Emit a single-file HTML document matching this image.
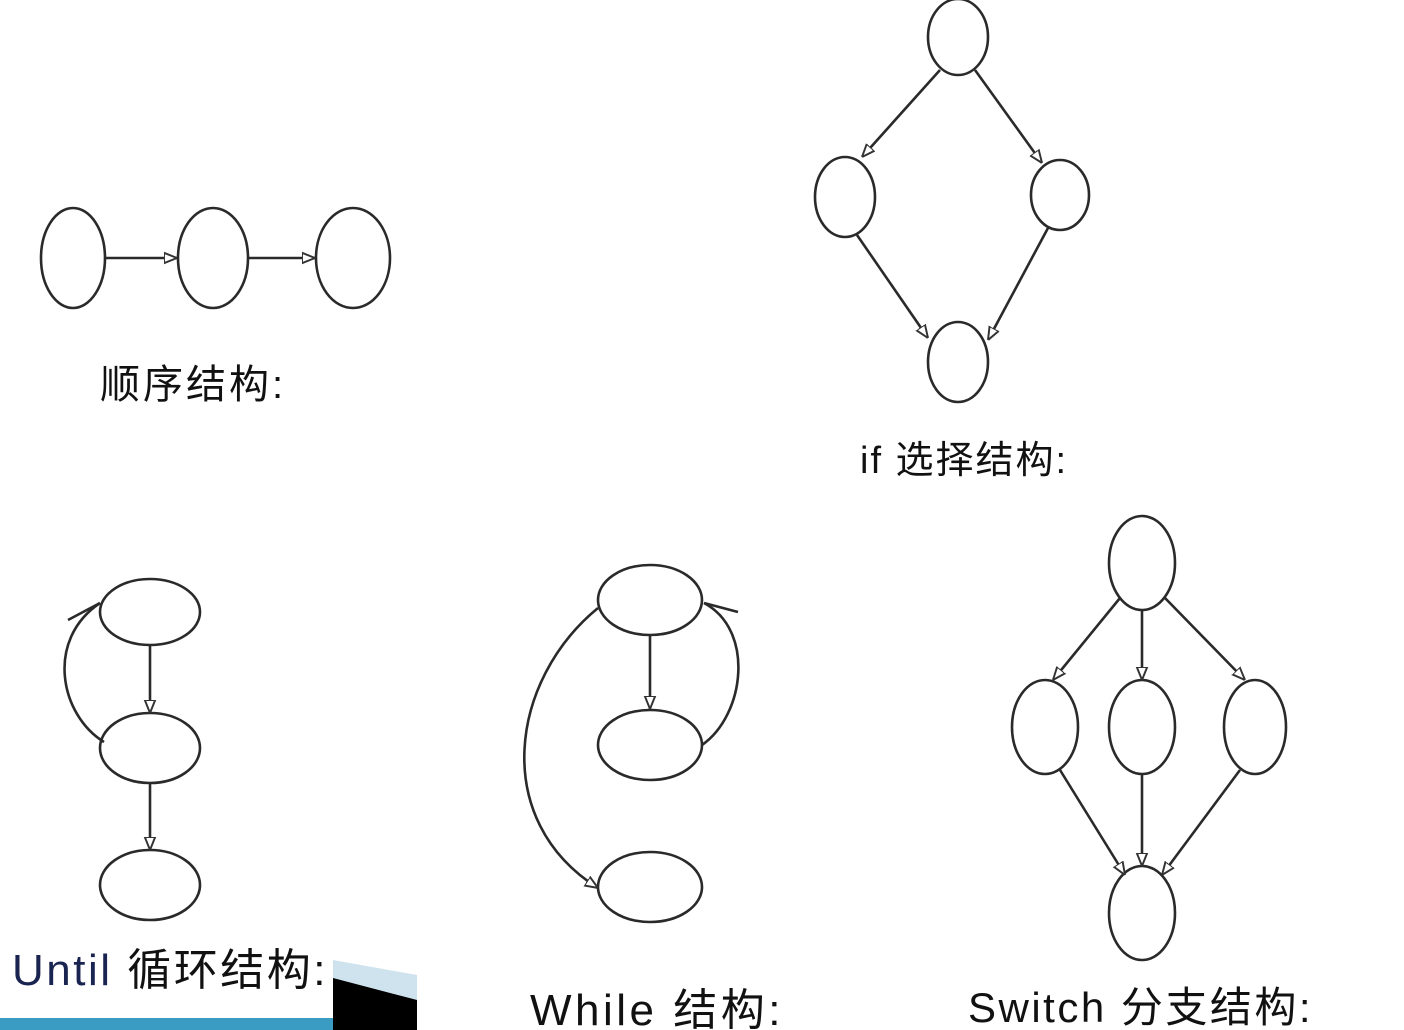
<!DOCTYPE html>
<html><head><meta charset="utf-8"><style>
html,body{margin:0;padding:0;background:#fff;}
svg{display:block;}
text{font-family:"Liberation Sans","Noto Sans CJK SC",sans-serif;fill:#111;}
</style></head><body>
<svg width="1404" height="1030" viewBox="0 0 1404 1030">
<defs>
<marker id="ar" viewBox="0 0 10 10" refX="10" refY="5" markerWidth="13" markerHeight="13" markerUnits="userSpaceOnUse" orient="auto">
<path d="M0,1 L10,5 L0,9 Z" fill="#fff" stroke="#333" stroke-width="1.5"/>
</marker>
</defs>
<g fill="none" stroke="#2a2a2a" stroke-width="2.6">
<g>
<ellipse cx="73" cy="258" rx="32" ry="50"/>
<ellipse cx="213" cy="258" rx="35" ry="50"/>
<ellipse cx="353" cy="258" rx="37" ry="50"/>
<line x1="106" y1="258" x2="177" y2="258" marker-end="url(#ar)"/>
<line x1="249" y1="258" x2="315" y2="258" marker-end="url(#ar)"/>
</g>
<g>
<ellipse cx="958" cy="37" rx="30" ry="38"/>
<ellipse cx="845" cy="197" rx="30" ry="40"/>
<ellipse cx="1060" cy="195" rx="29" ry="35"/>
<ellipse cx="958" cy="362" rx="30" ry="40"/>
<line x1="940" y1="70" x2="862" y2="157" marker-end="url(#ar)"/>
<line x1="975" y1="70" x2="1042" y2="163" marker-end="url(#ar)"/>
<line x1="857" y1="235" x2="928" y2="338" marker-end="url(#ar)"/>
<line x1="1048" y1="228" x2="988" y2="340" marker-end="url(#ar)"/>
</g>
<g>
<ellipse cx="150" cy="612" rx="50" ry="33"/>
<ellipse cx="150" cy="748" rx="50" ry="35"/>
<ellipse cx="150" cy="885" rx="50" ry="35"/>
<line x1="150" y1="645" x2="150" y2="713" marker-end="url(#ar)"/>
<line x1="150" y1="783" x2="150" y2="850" marker-end="url(#ar)"/>
<path d="M104,742 C60,715 45,640 100,603"/>
<line x1="68" y1="620" x2="100" y2="603"/>
</g>
<g>
<ellipse cx="650" cy="600" rx="52" ry="35"/>
<ellipse cx="650" cy="745" rx="52" ry="35"/>
<ellipse cx="650" cy="887" rx="52" ry="35"/>
<line x1="650" y1="635" x2="650" y2="709" marker-end="url(#ar)"/>
<path d="M702,745 C745,715 755,630 704,603"/>
<line x1="738" y1="612" x2="704" y2="603"/>
<path d="M598,608 C510,680 490,820 598,888" marker-end="url(#ar)"/>
</g>
<g>
<ellipse cx="1142" cy="563" rx="33" ry="47"/>
<ellipse cx="1045" cy="727" rx="33" ry="47"/>
<ellipse cx="1142" cy="727" rx="33" ry="47"/>
<ellipse cx="1255" cy="727" rx="31" ry="47"/>
<ellipse cx="1142" cy="913" rx="33" ry="47"/>
<line x1="1120" y1="598" x2="1053" y2="680" marker-end="url(#ar)"/>
<line x1="1142" y1="610" x2="1142" y2="680" marker-end="url(#ar)"/>
<line x1="1165" y1="598" x2="1245" y2="680" marker-end="url(#ar)"/>
<line x1="1060" y1="770" x2="1125" y2="875" marker-end="url(#ar)"/>
<line x1="1142" y1="774" x2="1142" y2="866" marker-end="url(#ar)"/>
<line x1="1240" y1="770" x2="1162" y2="875" marker-end="url(#ar)"/>
</g>
</g>
<text x="100" y="398" font-size="40" letter-spacing="3">顺序结构:</text>
<text x="860" y="473" font-size="38" letter-spacing="2">if 选择结构:</text>
<rect x="0" y="1018" width="417" height="12" fill="#3a9cc2"/>
<polygon points="333,960 417,975 417,1030 333,1030" fill="#cfe3ee"/>
<polygon points="333,978 417,1000 417,1030 333,1030" fill="#000"/>
<rect x="0" y="940" width="333" height="78" fill="#fff"/>
<text x="12" y="985" font-size="44" letter-spacing="2.5"><tspan fill="#1a2450">Until</tspan> 循环结构:</text>
<text x="530" y="1025" font-size="44" letter-spacing="3.5">While 结构:</text>
<text x="968" y="1022" font-size="42" letter-spacing="2.5">Switch 分支结构:</text>
</svg>
</body></html>
